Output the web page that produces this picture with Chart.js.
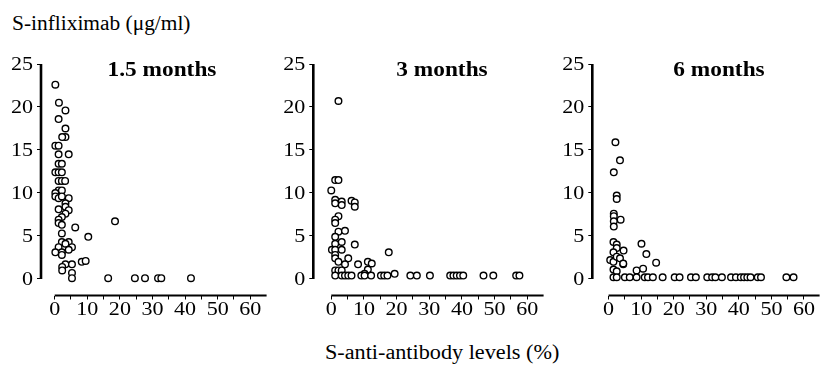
<!DOCTYPE html>
<html>
<head>
<meta charset="utf-8">
<script src="https://cdn.jsdelivr.net/npm/chart.js@4/dist/chart.umd.min.js"></script>
<style>
  body { margin: 0; background: #fff; }
  #wrap { position: relative; width: 825px; height: 365px; overflow: hidden; font-family: "Liberation Serif", "Times New Roman", serif; color: #000; }
  .panel { position: absolute; top: 40px; height: 290px; }
  .lbl { position: absolute; white-space: nowrap; font-size: 20px; line-height: 1; transform-origin: 0 0; }
  .ttl { position: absolute; white-space: nowrap; font-size: 22px; font-weight: bold; line-height: 1; transform: translateX(-50%) scaleX(1.06); }
</style>
</head>
<body>
<div id="wrap">
  <div class="lbl" style="left:12px; top:13px; transform:scaleX(1.07);">S-infliximab (μg/ml)</div>
  <div class="lbl" style="left:325px; top:342px; transform:scaleX(1.11);">S-anti-antibody levels (%)</div>
  <div class="panel" style="left:0px; width:272px;"><canvas id="c15" width="272" height="290"></canvas></div>
  <div class="panel" style="left:280px; width:269px;"><canvas id="c3" width="269" height="290"></canvas></div>
  <div class="panel" style="left:560px; width:265px;"><canvas id="c6" width="265" height="290"></canvas></div>
  <div class="ttl" style="left:162px; top:58px;">1.5 months</div>
  <div class="ttl" style="left:442px; top:58px;">3 months</div>
  <div class="ttl" style="left:719px; top:58px;">6 months</div>
</div>
<script>
// anti-antibody level (%) and infliximab (ug/ml) per patient, one pair of arrays per visit
const antiAb15 = [0.2, 1.3, 3.3, 1.2, 3.3, 3.3, 2.3, 0.2, 1.2, 4.3, 1.2, 1.2, 2.2, 0.2, 1.2, 2.2, 1.2, 2.2, 3.2, 1.2,
  2.2, 0.2, 0.2, 1.2, 2.2, 4.3, 3.3, 3.3, 1.2, 4.3, 3.3, 2.2, 1.2, 1.2, 2.2, 6.3, 18.5, 2.2, 10.3, 2.2,
  4.3, 3.3, 5.3, 1.2, 0.2, 2.2, 4.3, 2.2, 8.3, 9.5, 3.3, 5.3, 2.3, 2.3, 5.3, 5.3, 16.4, 24.6, 27.7, 31.7,
  32.7, 41.8];
const inflix15 = [22.6, 20.5, 19.6, 18.6, 17.5, 16.5, 16.5, 15.5, 15.5, 14.5, 14.5, 13.4, 13.4, 12.4, 12.4, 12.4, 11.4, 11.4, 11.4, 10.3,
  10.3, 10.0, 9.6, 9.4, 9.6, 9.4, 8.8, 8.4, 8.1, 8.0, 7.6, 7.2, 6.9, 6.5, 6.3, 6.0, 6.7, 5.3, 4.9, 4.3,
  4.3, 4.1, 3.7, 3.7, 3.1, 3.1, 3.4, 2.8, 2.0, 2.1, 1.7, 1.7, 1.4, 1.0, 0.7, 0.1, 0.1, 0.1, 0.1, 0.1,
  0.1, 0.1];

const antiAb3 = [2.2, 1.2, 2.2, 0.0, 1.2, 1.2, 3.2, 3.2, 6.2, 7.2, 7.2, 2.2, 1.2, 1.2, 2.2, 4.2, 1.2, 3.2, 1.2, 7.2,
  0.2, 1.2, 3.2, 1.2, 1.2, 5.2, 2.2, 4.2, 8.2, 11.2, 12.4, 17.6, 1.2, 2.2, 3.2, 11.2, 10.2,
  1.2, 3.2, 4.2, 5.2, 6.2, 9.2, 10.2, 12.2, 15.2, 16.2, 17.2, 19.4, 24.2, 26.2, 30.2, 36.4, 37.4, 38.4,
  39.4, 40.4, 46.6, 49.6, 56.6, 57.6];
const inflix3 = [20.7, 11.5, 11.5, 10.3, 9.2, 8.8, 9.0, 8.6, 9.1, 8.9, 8.4, 7.3, 6.9, 6.5, 5.5, 5.6, 4.9, 4.3, 4.1, 4.0,
  3.4, 3.4, 3.4, 2.8, 2.4, 2.4, 2.0, 1.7, 1.7, 2.0, 1.8, 3.1, 1.0, 1.0, 1.0, 1.1, 0.6,
  0.4, 0.4, 0.4, 0.4, 0.4, 0.4, 0.4, 0.4, 0.4, 0.4, 0.4, 0.6, 0.4, 0.4, 0.4, 0.4, 0.4, 0.4,
  0.4, 0.4, 0.4, 0.4, 0.4, 0.4];

const antiAb6 = [2.1, 3.5, 1.6, 2.5, 2.5, 1.6, 1.6, 3.7, 1.6, 1.6, 1.5, 2.5, 2.5, 4.6, 1.5, 10.1, 11.6, 14.6, 0.5, 1.5,
  2.5, 3.5, 4.5, 4.5, 1.5, 2.5, 8.6, 10.6,
  1.5, 2.5, 5.0, 6.5, 8.6, 11.1, 12.1, 13.6, 16.6, 20.3, 21.8, 25.3, 26.8, 30.3, 31.8, 32.8, 34.8, 37.6,
  39.1, 40.6, 41.6, 42.6, 43.6, 45.8, 46.8, 54.6, 56.8];
const inflix6 = [15.9, 13.8, 12.4, 9.7, 9.3, 7.6, 7.3, 6.9, 6.7, 6.1, 4.3, 4.0, 3.6, 3.3, 3.1, 4.1, 2.9, 1.9, 2.2, 2.0,
  2.6, 2.4, 1.7, 1.8, 1.1, 0.9, 1.0, 1.2,
  0.2, 0.2, 0.2, 0.2, 0.2, 0.2, 0.2, 0.2, 0.2, 0.2, 0.2, 0.2, 0.2, 0.2, 0.2, 0.2, 0.2, 0.2,
  0.2, 0.2, 0.2, 0.2, 0.2, 0.2, 0.2, 0.2, 0.2];

const yTicks = [0, 5, 10, 15, 20, 25];
const xTicks = [0, 5, 10, 15, 20, 25, 30, 35, 40, 45, 50, 55, 60];
const xLabels = [0, 10, 20, 30, 40, 50, 60];

const serif = '"Liberation Serif", "Times New Roman", serif';

// detached axis lines (y from 0 to 25, x from 0 to the right edge) plus slightly wide tick numbers
const axisLines = {
    id: 'axisLines',
    afterDraw(chart) {
        const { ctx, chartArea, scales: { x, y } } = chart;
        ctx.save();
        ctx.strokeStyle = '#000';
        ctx.lineWidth = 2.6;
        ctx.beginPath();
        ctx.moveTo(chartArea.left, y.getPixelForValue(0));
        ctx.lineTo(chartArea.left, y.getPixelForValue(25));
        ctx.stroke();
        ctx.lineWidth = 2;
        ctx.beginPath();
        ctx.moveTo(x.getPixelForValue(0), chartArea.bottom);
        ctx.lineTo(chartArea.right, chartArea.bottom);
        ctx.stroke();

        ctx.fillStyle = '#000';
        ctx.font = '19px ' + serif;
        ctx.textBaseline = 'middle';
        const sx = 1.16;
        ctx.textAlign = 'right';
        yTicks.forEach(v => {
            ctx.save();
            ctx.translate(chartArea.left - 8, y.getPixelForValue(v) + 1);
            ctx.scale(sx, 1);
            ctx.fillText(String(v), 0, 0);
            ctx.restore();
        });
        ctx.textAlign = 'center';
        xLabels.forEach(v => {
            ctx.save();
            ctx.translate(x.getPixelForValue(v), chartArea.bottom + 15);
            ctx.scale(sx, 1);
            ctx.fillText(String(v), 0, 0);
            ctx.restore();
        });
        ctx.restore();
    }
};

function createPanel(canvasId, xs, ys, yWidth, xMin, xMax) {
    const ctx = document.getElementById(canvasId).getContext('2d');
    new Chart(ctx, {
        type: 'scatter',
        data: {
            datasets: [{
                data: xs.map((v, i) => ({ x: v, y: ys[i] })),
                pointRadius: 3.3,
                pointBorderWidth: 1.4,
                pointBorderColor: '#000',
                pointBackgroundColor: '#fff',
                clip: false
            }]
        },
        options: {
            responsive: false,
            animation: false,
            devicePixelRatio: 1,
            layout: { padding: { top: 24, right: 0, left: 0, bottom: 0 } },
            plugins: { legend: { display: false }, tooltip: { enabled: false } },
            scales: {
                x: {
                    type: 'linear',
                    min: xMin,
                    max: xMax,
                    afterFit: scale => { scale.height = 34.5; },
                    afterBuildTicks: scale => { scale.ticks = xTicks.map(v => ({ value: v })); },
                    grid: { drawOnChartArea: false, drawTicks: true, tickLength: 4, color: '#000', lineWidth: 1 },
                    border: { display: false },
                    ticks: { display: false }
                },
                y: {
                    type: 'linear',
                    min: -1.92,
                    max: 25,
                    afterFit: scale => { scale.width = yWidth; },
                    afterBuildTicks: scale => { scale.ticks = yTicks.map(v => ({ value: v })); },
                    grid: { drawOnChartArea: false, drawTicks: true, tickLength: 4, color: '#000', lineWidth: 1 },
                    border: { display: false },
                    ticks: { display: false }
                }
            }
        },
        plugins: [axisLines]
    });
}

createPanel('c15', antiAb15, inflix15, 41, -4.2, 65);
createPanel('c3', antiAb3, inflix3, 33.3, -5.5, 65);
createPanel('c6', antiAb6, inflix6, 32.3, -5.0, 64.8);
</script>
</body>
</html>
